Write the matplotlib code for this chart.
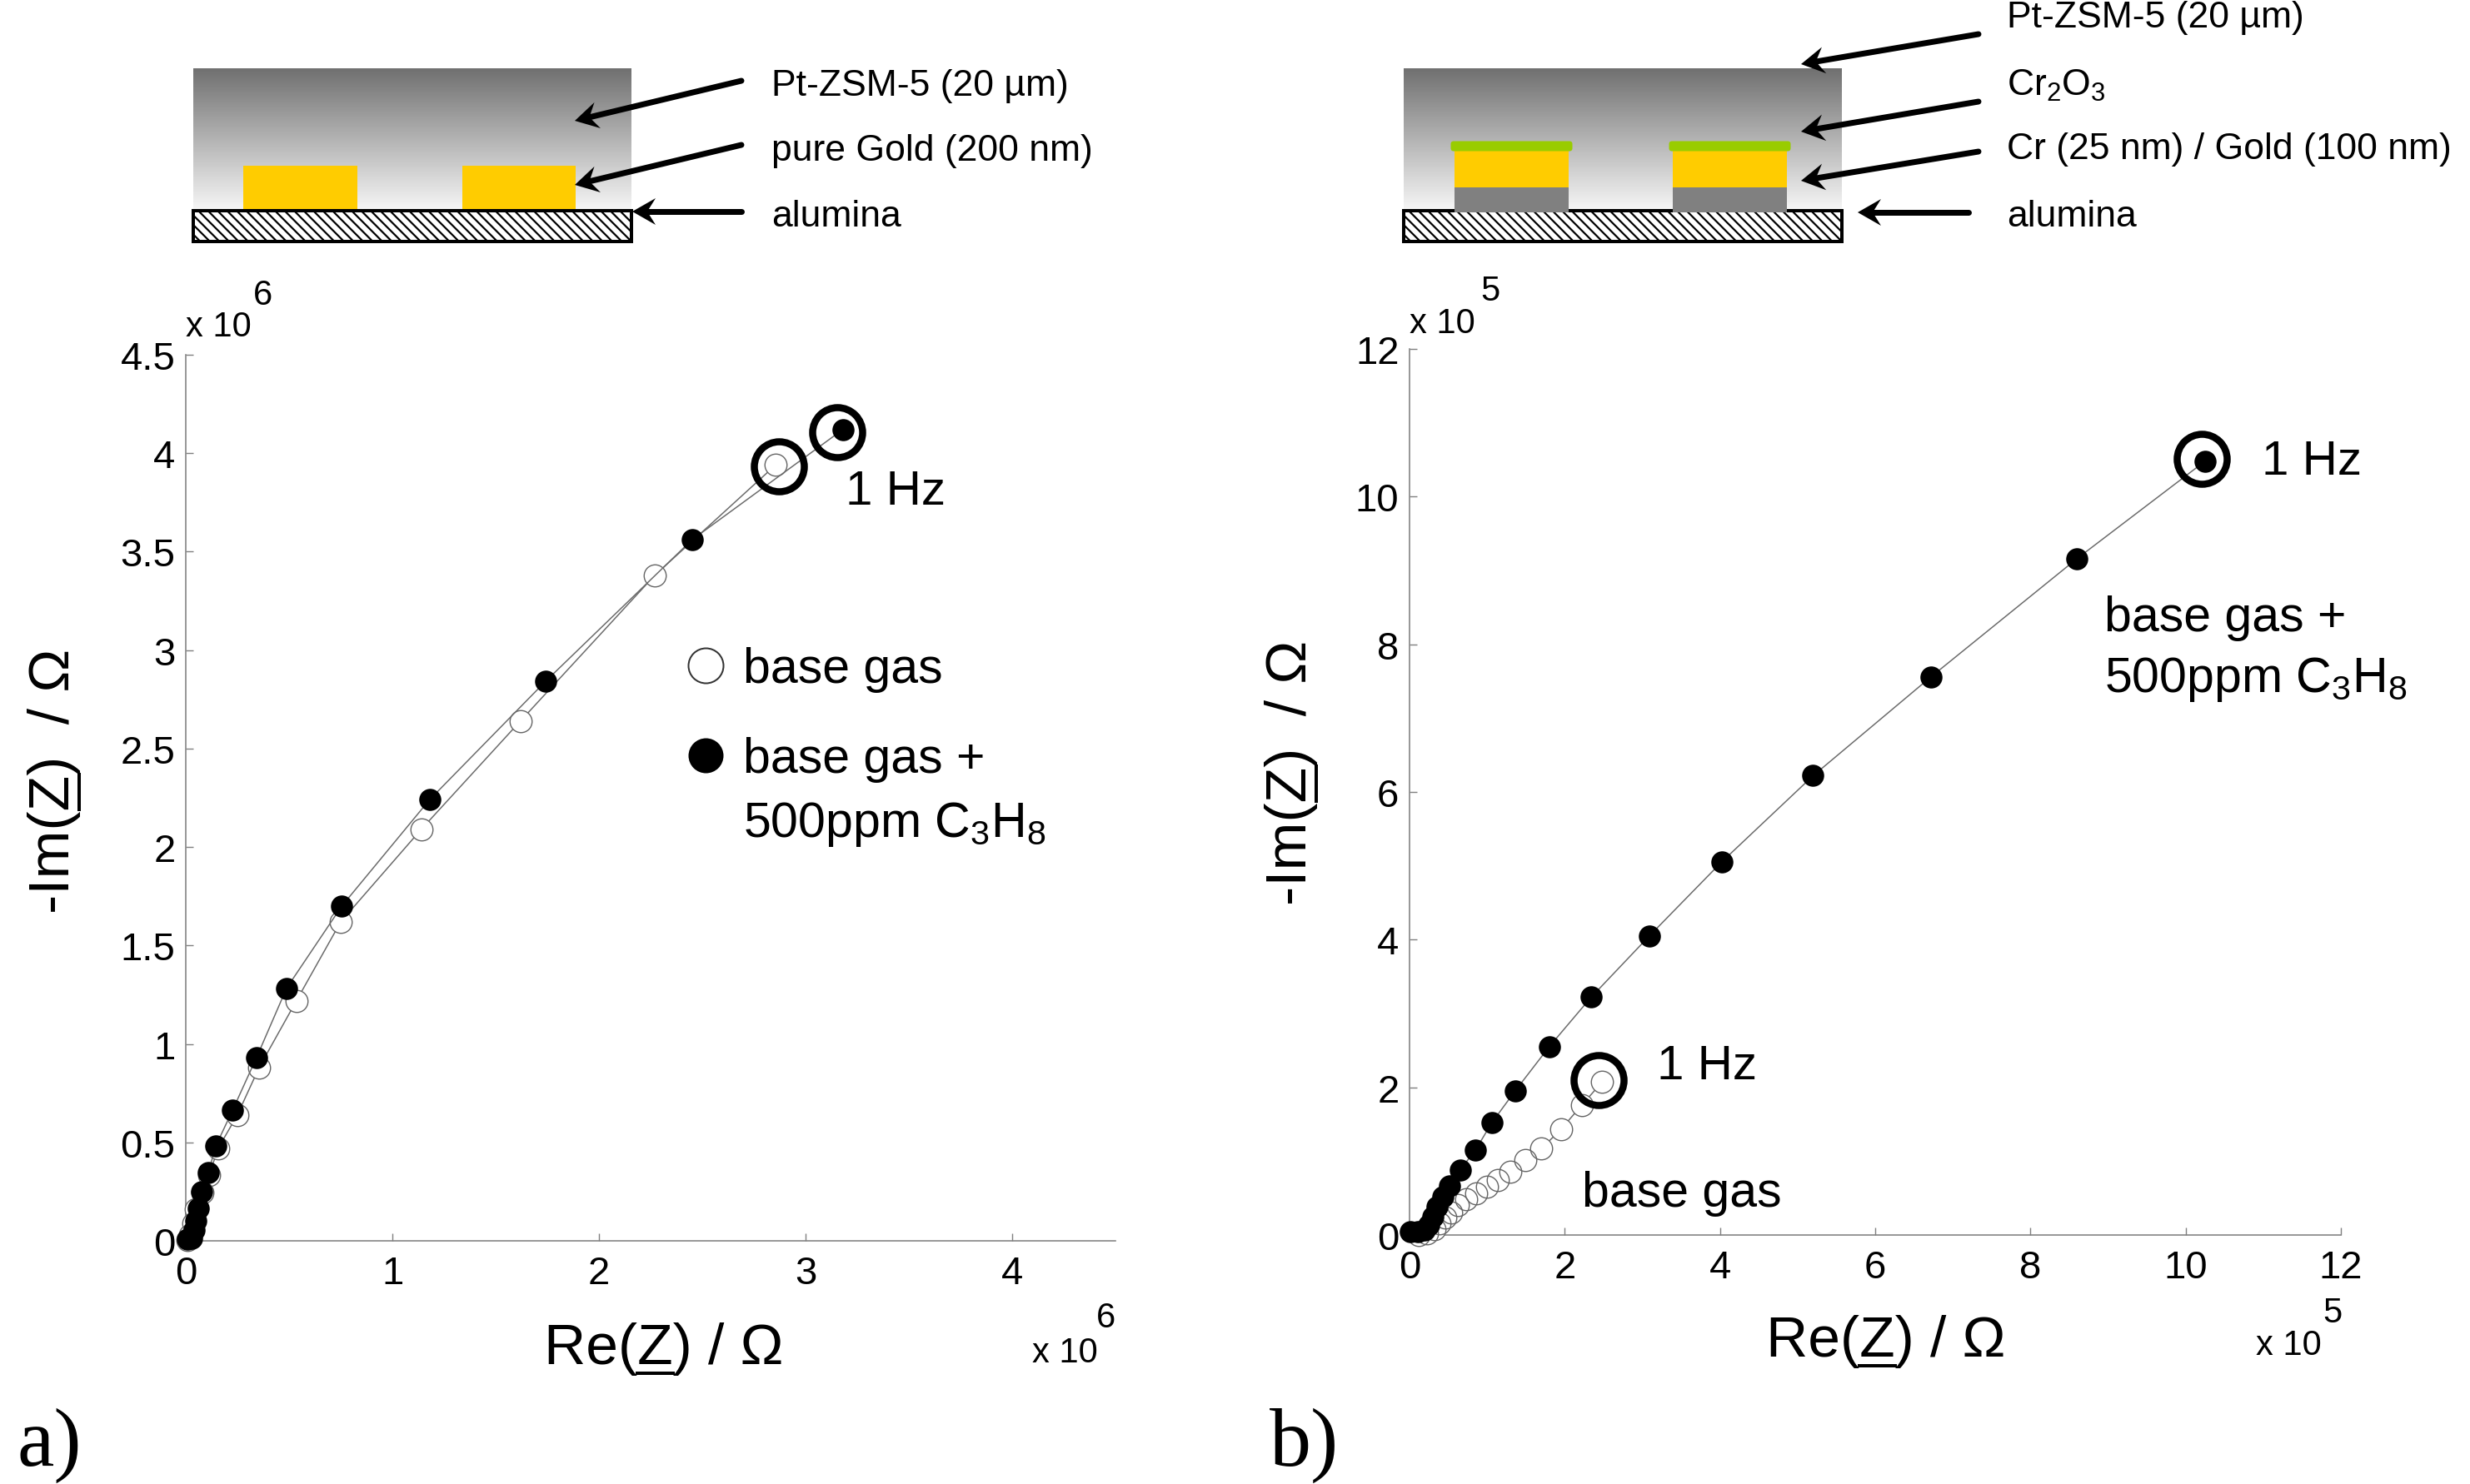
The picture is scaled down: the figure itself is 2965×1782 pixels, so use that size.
import numpy as np
import matplotlib
matplotlib.use("Agg")
import matplotlib.pyplot as plt
from matplotlib.patches import Rectangle, Polygon, FancyBboxPatch
from matplotlib.font_manager import FontProperties

plt.rcParams["font.family"] = ["Liberation Sans", "DejaVu Sans"]
plt.rcParams["mathtext.fontset"] = "custom"
plt.rcParams["mathtext.rm"] = "Liberation Sans"
plt.rcParams["mathtext.default"] = "regular"

# panel a) pure gold electrodes, values in 1e6 ohm
a_base_re = [2.855, 2.27, 1.62, 1.14, 0.75, 0.536, 0.355, 0.25, 0.157, 0.113, 0.08, 0.05, 0.035, 0.02, 0.01]
a_base_im = [3.94, 3.38, 2.64, 2.09, 1.62, 1.22, 0.88, 0.64, 0.47, 0.335, 0.245, 0.16, 0.09, 0.03, 0.005]
a_gas_re = [3.18, 2.45, 1.74, 1.18, 0.755, 0.488, 0.343, 0.226, 0.145, 0.109, 0.077, 0.06, 0.048, 0.04, 0.028, 0.008]
a_gas_im = [4.12, 3.56, 2.84, 2.24, 1.70, 1.283, 0.932, 0.662, 0.481, 0.346, 0.249, 0.165, 0.10, 0.055, 0.013, 0.01]
a_ring_re = [3.153, 2.871]
a_ring_im = [4.107, 3.934]
a_xticks = [0, 1, 2, 3, 4]
a_yticks = [0, 0.5, 1, 1.5, 2, 2.5, 3, 3.5, 4, 4.5]
a_ylabels = ["0", "0.5", "1", "1.5", "2", "2.5", "3", "3.5", "4", "4.5"]

# panel b) Cr2O3 covered electrodes, values in 1e5 ohm
b_base_re = [2.48, 2.22, 1.95, 1.70, 1.49, 1.30, 1.14, 1.0, 0.86, 0.73, 0.62, 0.535, 0.46, 0.39, 0.32, 0.225, 0.12]
b_base_im = [2.07, 1.76, 1.43, 1.17, 1.01, 0.855, 0.745, 0.655, 0.565, 0.485, 0.405, 0.305, 0.235, 0.16, 0.08, 0.02, 0.0]
b_gas_re = [10.25, 8.6, 6.72, 5.2, 4.02, 3.09, 2.34, 1.80, 1.36, 1.06, 0.85, 0.65, 0.515, 0.43, 0.355, 0.30, 0.25, 0.19, 0.11, 0.01]
b_gas_im = [10.48, 9.16, 7.56, 6.22, 5.05, 4.05, 3.22, 2.55, 1.95, 1.52, 1.15, 0.88, 0.665, 0.52, 0.38, 0.25, 0.135, 0.07, 0.045, 0.045]
b_ring_re = [10.21, 2.436]
b_ring_im = [10.51, 2.097]
b_xticks = [0, 2, 4, 6, 8, 10, 12]
b_yticks = [0, 2, 4, 6, 8, 10, 12]

W, H = 2965, 1783
GRAY = "#808080"
LINE = "#6a6a6a"
GOLD = "#FFCC00"
GREEN = "#99CC00"
px = 0.72  # points per pixel at dpi 100

fig = plt.figure(figsize=(W / 100, H / 100), dpi=100, facecolor="white")


def make_axes(x0, x1, ytop, ybot, xlim, ylim, xticks, yticks, ylabels):
    ax = fig.add_axes([x0 / W, 1 - ybot / H, (x1 - x0) / W, (ybot - ytop) / H])
    ax.patch.set_alpha(0)
    ax.set_xlim(*xlim)
    ax.set_ylim(*ylim)
    ax.spines["top"].set_visible(False)
    ax.spines["right"].set_visible(False)
    ax.spines["left"].set_color(GRAY)
    ax.spines["bottom"].set_color(GRAY)
    ax.spines["left"].set_linewidth(1.6 * px)
    ax.spines["bottom"].set_linewidth(1.6 * px)
    ax.set_xticks(xticks)
    ax.set_yticks(yticks)
    ax.set_xticklabels([str(t) for t in xticks])
    ax.set_yticklabels(ylabels)
    ax.tick_params(direction="in", length=9 * px, width=1.4 * px, color=GRAY, labelsize=34)
    ax.tick_params(axis="x", pad=12)
    ax.tick_params(axis="y", pad=9)
    return ax


def draw_series(ax, base_re, base_im, gas_re, gas_im, ring_re, ring_im):
    ms = 26.5 * px
    ax.plot(base_re, base_im, color=LINE, lw=1.5 * px, zorder=3, clip_on=False)
    # white disc first so the line stops at the marker, outlines after so they overlap
    ax.plot(base_re, base_im, "o", ms=ms, mfc="white", mec="none", zorder=4, clip_on=False)
    ax.plot(base_re, base_im, "o", ms=ms, mfc="none", mec="#666666", mew=1.4 * px, zorder=5, clip_on=False)
    ax.plot(gas_re, gas_im, color=LINE, lw=1.5 * px, zorder=6, clip_on=False)
    ax.plot(gas_re, gas_im, "o", ms=ms, color="black", mec="black", mew=0, zorder=7, clip_on=False)
    ax.plot(ring_re, ring_im, "o", ms=60 * px, mfc="none", mec="black", mew=8.5 * px, zorder=8, clip_on=False)


ax_a = make_axes(223, 1339, 427, 1491, (0, 4.5), (0, 4.5), a_xticks, a_yticks, a_ylabels)
draw_series(ax_a, a_base_re, a_base_im, a_gas_re, a_gas_im, a_ring_re, a_ring_im)
ax_b = make_axes(1692, 2810, 420, 1484, (0, 12), (0, 12), b_xticks, b_yticks, [str(t) for t in b_yticks])
draw_series(ax_b, b_base_re, b_base_im, b_gas_re, b_gas_im, b_ring_re, b_ring_im)

# overlay in picture pixels for the layer sketches and free labels
ov = fig.add_axes([0, 0, 1, 1], zorder=10)
ov.patch.set_alpha(0)
ov.axis("off")


def layers(x0, x1):
    grad = np.linspace(0.44, 0.96, 256).reshape(-1, 1)
    ov.imshow(grad, extent=(x0, x1, 252, 83), cmap="gray", vmin=0, vmax=1, aspect="auto", zorder=1)
    frame = Rectangle((x0, 254), x1 - x0, 37, fc="white", ec="none", zorder=2)
    ov.add_patch(frame)
    for s in np.arange(x0 - 40, x1 + 10, 11.5):
        stripe, = ov.plot([s, s + 37], [254, 291], color="black", lw=2.2 * px, zorder=3)
        stripe.set_clip_path(frame)
    ov.add_patch(Rectangle((x0, 254), x1 - x0, 37, fc="none", ec="black", lw=4 * px, zorder=4))


def arrow(x0, y0, x1, y1):
    d = np.array([x1 - x0, y1 - y0], dtype=float)
    d /= np.hypot(*d)
    n = np.array([-d[1], d[0]])
    tip = np.array([x1, y1], dtype=float)
    pts = [tip, tip - 28 * d + 16 * n, tip - 18 * d, tip - 28 * d - 16 * n]
    neck = tip - 18 * d
    ov.plot([x0, neck[0]], [y0, neck[1]], color="black", lw=7 * px, solid_capstyle="round", zorder=6)
    ov.add_patch(Polygon(pts, closed=True, fc="black", ec="none", zorder=6))


layers(232, 758)
for gx0, gx1 in [(292, 429), (555, 691)]:
    ov.add_patch(Rectangle((gx0, 200), gx1 - gx0, 52, fc=GOLD, ec="none", zorder=5))
arrow(890, 98, 690, 146)
arrow(890, 175, 690, 223)
arrow(890, 255, 759, 255)

layers(1685, 2211)
for gx0, gx1 in [(1746, 1883), (2008, 2145)]:
    ov.add_patch(Rectangle((gx0, 226), gx1 - gx0, 30, fc="#808080", ec="none", zorder=5))
    ov.add_patch(Rectangle((gx0, 181), gx1 - gx0, 45, fc=GOLD, ec="none", zorder=5))
    ov.add_patch(FancyBboxPatch((gx0 - 1, 174), gx1 - gx0 + 2, 5, boxstyle="round,pad=3.5", fc=GREEN, ec="none", zorder=5))
arrow(2375, 42, 2162, 78)
arrow(2375, 123, 2162, 159)
arrow(2375, 183, 2162, 218)
arrow(2363, 256, 2230, 256)

ov.set_xlim(0, W)
ov.set_ylim(H, 0)


def label(x, y, s, size=32, ha="left", family=None):
    return ov.text(x, y + 3, s, fontsize=size, ha=ha, va="center", family=family, zorder=12)


label(926, 100, "Pt-ZSM-5 (20 µm)")
label(926, 178, "pure Gold (200 nm)")
label(926, 257, "alumina")
label(2409, 19, "Pt-ZSM-5 (20 µm)")
label(2409, 100, "Cr$_2$O$_3$")
label(2409, 177, "Cr (25 nm) / Gold (100 nm)")
label(2409, 257, "alumina")

# axis multipliers
for x, y, s in [(223, 390, "x 10"), (1692, 386, "x 10"), (1239, 1622, "x 10"), (2708, 1613, "x 10")]:
    label(x, y, s, size=30)
for x, y, s in [(304, 352, "6"), (1777, 347, "5"), (1316, 1580, "6"), (2788, 1574, "5")]:
    label(x, y, s, size=30)

label(1015, 588, "1 Hz", size=42)
label(2715, 552, "1 Hz", size=42)
label(1989, 1278, "1 Hz", size=42)
label(892, 802, "base gas", size=42.5)
label(892, 910, "base gas +", size=42.5)
label(892, 987, "500ppm C$_3$H$_8$", size=42.5)
label(2526, 740, "base gas +", size=42.5)
label(2526, 813, "500ppm C$_3$H$_8$", size=42.5)
label(1899, 1431, "base gas", size=42.5)

# legend symbols of panel a
ov.plot([847], [800], "o", ms=42 * px, mfc="white", mec="#333333", mew=2 * px, zorder=12)
ov.plot([847], [908], "o", ms=42 * px, color="black", mew=0, zorder=12)

label(21, 1733, "a)", size=72, family="Liberation Serif")
label(1524, 1733, "b)", size=72, family="Liberation Serif")

renderer = fig.canvas.get_renderer()
fp = FontProperties(family="Liberation Sans", size=50)


def text_w(s):
    return renderer.get_text_width_height_descent(s, fp, False)[0]


def x_title(x, y, before, letter, after):
    ov.text(x, y, before + letter + after, fontproperties=fp, ha="left", va="center", zorder=12)
    x0 = x + text_w(before)
    ov.plot([x0, x0 + text_w(letter)], [y + 30, y + 30], color="black", lw=4 * px, zorder=12)


def y_title(x, ybottom, before, letter, after):
    ov.text(x, ybottom, before + letter + after, fontproperties=fp, rotation=90, ha="center", va="bottom", zorder=12)
    y0 = ybottom - text_w(before)
    ov.plot([x + 30, x + 30], [y0, y0 - text_w(letter)], color="black", lw=4 * px, zorder=12)


x_title(653, 1620, "Re(", "Z", ") / Ω")
x_title(2120, 1611, "Re(", "Z", ") / Ω")
y_title(65, 1097, "-Im(", "Z", ")  / Ω")
y_title(1550, 1087, "-Im(", "Z", ")  / Ω")

fig.savefig("out.png", dpi=100)
